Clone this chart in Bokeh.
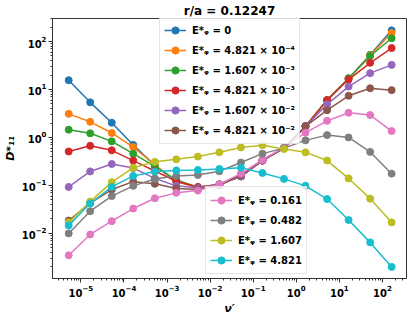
from bokeh.plotting import figure
from bokeh.models import Range1d, Legend, LegendItem
from bokeh.embed import file_html
from bokeh.resources import INLINE

# collisionality nu'
nu = [5.2e-6, 1.64e-5, 5.2e-5, 1.64e-4, 5.2e-4, 1.64e-3, 5.2e-3, 1.64e-2,
      5.2e-2, 1.64e-1, 5.2e-1, 1.64, 5.2, 16.4, 52.0, 164.0]

d_e0 = [15.6, 5.4, 2.03, 0.70, 0.26, 0.12, 0.090, 0.105, 0.155, 0.33, 0.60, 1.72, 6.0, 17.2, 53.0, 171.0]
d_e1 = [3.11, 2.12, 1.24, 0.63, 0.27, 0.12, 0.090, 0.105, 0.155, 0.33, 0.60, 1.72, 6.0, 17.0, 52.0, 151.0]
d_e2 = [1.45, 1.22, 0.83, 0.46, 0.25, 0.13, 0.092, 0.105, 0.155, 0.33, 0.60, 1.72, 6.0, 17.0, 50.0, 117.0]
d_e3 = [0.51, 0.67, 0.54, 0.33, 0.20, 0.122, 0.093, 0.105, 0.155, 0.33, 0.60, 1.72, 6.0, 16.1, 36.0, 73.0]
d_e4 = [0.093, 0.196, 0.28, 0.23, 0.14, 0.098, 0.088, 0.105, 0.155, 0.33, 0.60, 1.72, 4.9, 11.5, 21.9, 32.6]
d_e5 = [0.0185, 0.043, 0.082, 0.12, 0.108, 0.086, 0.082, 0.10, 0.165, 0.34, 0.60, 1.70, 3.7, 7.4, 10.6, 9.7]
d_e6 = [0.0035, 0.0095, 0.018, 0.033, 0.054, 0.070, 0.078, 0.106, 0.176, 0.34, 0.62, 1.26, 2.22, 3.27, 2.93, 1.36]
d_e7 = [0.010, 0.029, 0.060, 0.098, 0.136, 0.158, 0.165, 0.198, 0.30, 0.46, 0.60, 0.87, 1.12, 1.0, 0.50, 0.176]
d_e8 = [0.017, 0.046, 0.117, 0.233, 0.31, 0.35, 0.40, 0.49, 0.62, 0.69, 0.575, 0.49, 0.33, 0.14, 0.053, 0.017]
d_e9 = [0.0147, 0.042, 0.093, 0.158, 0.195, 0.206, 0.21, 0.22, 0.235, 0.182, 0.137, 0.098, 0.052, 0.019, 0.0065, 0.002]

series = [d_e0, d_e1, d_e2, d_e3, d_e4, d_e5, d_e6, d_e7, d_e8, d_e9]
labels = [
    "E*ᵩ = 0",
    "E*ᵩ = 4.821 × 10⁻⁴",
    "E*ᵩ = 1.607 × 10⁻³",
    "E*ᵩ = 4.821 × 10⁻³",
    "E*ᵩ = 1.607 × 10⁻²",
    "E*ᵩ = 4.821 × 10⁻²",
    "E*ᵩ = 0.161",
    "E*ᵩ = 0.482",
    "E*ᵩ = 1.607",
    "E*ᵩ = 4.821",
]
colors = ["#1f77b4", "#ff7f0e", "#2ca02c", "#d62728", "#9467bd",
          "#8c564b", "#e377c2", "#7f7f7f", "#bcbd22", "#17becf"]

title_text = "r/a = 0.12247"
x_label = "ν′"
y_label = "D*₁₁"

FONT = "DejaVu Sans"
FW, FH = 354, 260

p = figure(frame_width=FW, frame_height=FH, x_axis_type="log", y_axis_type="log",
           x_range=Range1d(10 ** -5.66, 10 ** 2.56),
           y_range=Range1d(10 ** -2.94, 10 ** 2.48),
           output_backend="svg", toolbar_location=None,
           min_border_left=44, min_border_right=1, min_border_top=0,
           min_border_bottom=0)

p.title.text = title_text
p.title.align = "center"
p.title.text_font = FONT
p.title.text_font_size = "12px"
p.title.text_font_style = "bold"
p.title.text_color = "black"
p.title.standoff = 2
p.title.offset = 0

p.grid.visible = False
p.outline_line_color = "#333333"
p.outline_line_width = 1
p.background_fill_color = "white"
p.border_fill_color = "white"

for ax in (p.xaxis, p.yaxis):
    ax.axis_line_color = "#333333"
    ax.major_tick_line_color = "#333333"
    ax.minor_tick_line_color = "#333333"
    ax.major_tick_out = 4
    ax.major_tick_in = 0
    ax.minor_tick_out = 2
    ax.minor_tick_in = 0
    ax.major_label_text_font = FONT
    ax.major_label_text_font_size = "10px"
    ax.major_label_text_font_style = "bold"
    ax.major_label_text_color = "black"
    ax.major_label_standoff = 2
    ax.axis_label_text_font = FONT
    ax.axis_label_text_font_size = "11px"
    ax.axis_label_text_font_style = "bold italic"
    ax.axis_label_text_color = "black"
    ax.axis_label_standoff = 2

p.xaxis.axis_label = x_label
p.yaxis.axis_label = y_label

items = []
for ys, col, lab in zip(series, colors, labels):
    r_line = p.line(nu, ys, line_color=col, line_width=1.5)
    r_pt = p.scatter(nu, ys, marker="circle", size=7, fill_color=col, line_color=col)
    items.append(LegendItem(label=lab, renderers=[r_line, r_pt]))


def make_legend(its, loc):
    lg = Legend(items=its, location=loc)
    lg.label_text_font = FONT
    lg.label_text_font_size = "10px"
    lg.label_text_font_style = "bold"
    lg.label_text_color = "black"
    lg.glyph_width = 22
    lg.glyph_height = 18
    lg.label_height = 18
    lg.label_standoff = 6
    lg.spacing = 2
    lg.padding = 4
    lg.margin = 0
    lg.border_line_color = "#cccccc"
    lg.border_line_width = 1
    lg.background_fill_color = "white"
    lg.background_fill_alpha = 0.8
    return lg


p.add_layout(make_legend(items[:6], (107, FH - 126)), "center")
p.add_layout(make_legend(items[6:], (153, 4)), "center")

open("out.html", "w").write(file_html(p, INLINE))
